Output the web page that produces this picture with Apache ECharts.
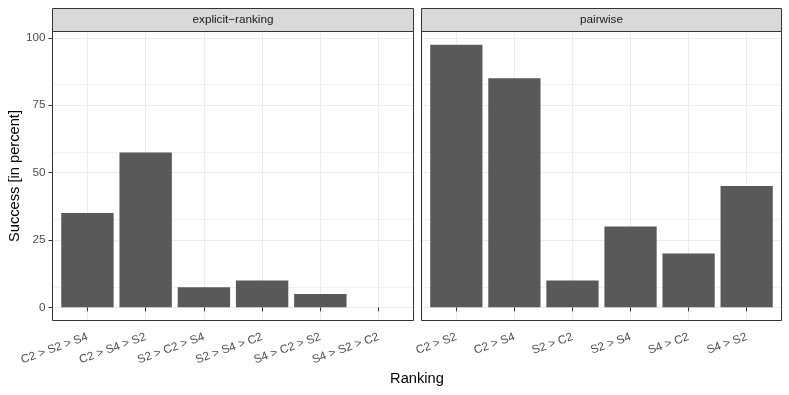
<!DOCTYPE html>
<html>
<head>
<meta charset="utf-8">
<script src="https://cdn.jsdelivr.net/npm/echarts@6/dist/echarts.min.js"></script>
<style>
html,body{margin:0;padding:0;background:#fff;}
#chart{width:789px;height:395px;}
</style>
</head>
<body>
<div id="chart"></div>
<script>
// ---- data ----
const panelTitles = ['explicit\u2212ranking', 'pairwise'];
const catsLeft = ['C2 > S2 > S4', 'C2 > S4 > S2', 'S2 > C2 > S4', 'S2 > S4 > C2', 'S4 > C2 > S2', 'S4 > S2 > C2'];
const valsLeft = [35, 57.5, 7.5, 10, 5, 0];
const catsRight = ['C2 > S2', 'C2 > S4', 'S2 > C2', 'S2 > S4', 'S4 > C2', 'S4 > S2'];
const valsRight = [97.5, 85, 10, 30, 20, 45];
const yTicks = [0, 25, 50, 75, 100];
const xTitle = 'Ranking';
const yTitle = 'Success [in percent]';

// ---- layout / style ----
const FONT = '"Liberation Sans", Arial, sans-serif';
const panels = [
  {left: 52.5, right: 413.5, cats: catsLeft, vals: valsLeft, title: panelTitles[0], showY: true},
  {left: 421.5, right: 781.5, cats: catsRight, vals: valsRight, title: panelTitles[1], showY: false}
];
const panelTop = 31.5, panelBottom = 320.5, stripTop = 8.5;
const yMin = -4.875, yMax = 102.375;

const grid = [], xAxis = [], yAxis = [], series = [], graphic = [];

panels.forEach((p, i) => {
  const w = p.right - p.left;
  const unit = w / (p.cats.length + 0.2);
  const inset = 0.6 * unit;
  // background panel grid
  grid.push({left: p.left, top: panelTop, width: w, height: panelBottom - panelTop, show: true,
    borderColor: '#333333', borderWidth: 1, backgroundColor: 'transparent', z: 3});
  // bar grid
  grid.push({left: p.left + inset, top: panelTop, width: w - 2 * inset, height: panelBottom - panelTop, show: false});
  const bg = grid.length - 2, bi = grid.length - 1;
  xAxis.push({type: 'value', gridIndex: bg, min: 0, max: 1, show: false});
  yAxis.push({type: 'value', gridIndex: bg, min: yMin, max: yMax, interval: 25,
    axisLine: {show: false},
    axisTick: {show: p.showY, length: 4, lineStyle: {color: '#333333'}, customValues: yTicks},
    axisLabel: {show: p.showY, customValues: yTicks, margin: 7, color: '#4D4D4D', fontSize: 11.7, fontFamily: FONT},
    splitLine: {show: true, lineStyle: {color: '#EBEBEB', width: 1}},
    minorTick: {show: false, splitNumber: 2},
    minorSplitLine: {show: true, lineStyle: {color: '#F2F2F2', width: 1}}
  });
  xAxis.push({type: 'category', gridIndex: bi, data: p.cats, boundaryGap: false,
    axisLine: {show: false},
    axisTick: {show: true, length: 4, lineStyle: {color: '#333333'}},
    axisLabel: {interval: 0, rotate: 20, margin: 16, color: '#4D4D4D', fontSize: 11.7, fontFamily: FONT},
    splitLine: {show: true, lineStyle: {color: '#EBEBEB', width: 1}}
  });
  yAxis.push({type: 'value', gridIndex: bi, min: yMin, max: yMax, show: false});
  series.push({type: 'bar', xAxisIndex: xAxis.length - 1, yAxisIndex: yAxis.length - 1,
    data: p.vals, barWidth: 0.9 * unit, clip: false, silent: true,
    itemStyle: {color: '#595959'}});
  // strip
  graphic.push({type: 'rect', shape: {x: p.left, y: stripTop, width: w, height: panelTop - stripTop},
    style: {fill: '#D9D9D9', stroke: '#333333', lineWidth: 1}, z: 10});
  graphic.push({type: 'text', x: (p.left + p.right) / 2, y: (stripTop + panelTop) / 2,
    style: {text: p.title, fill: '#1A1A1A', font: '11.7px ' + FONT, textAlign: 'center', textVerticalAlign: 'middle'}, z: 11});
});

graphic.push({type: 'text', x: 417, y: 379,
  style: {text: xTitle, fill: '#000000', font: '14.67px ' + FONT, textAlign: 'center', textVerticalAlign: 'middle'}});
graphic.push({type: 'text', x: 14.5, y: 176, rotation: Math.PI / 2,
  style: {text: yTitle, fill: '#000000', font: '14.67px ' + FONT, textAlign: 'center', textVerticalAlign: 'middle'}});

const chart = echarts.init(document.getElementById('chart'), null, {renderer: 'canvas'});
chart.setOption({
  animation: false,
  backgroundColor: '#ffffff',
  grid, xAxis, yAxis, series, graphic
});
</script>
</body>
</html>
